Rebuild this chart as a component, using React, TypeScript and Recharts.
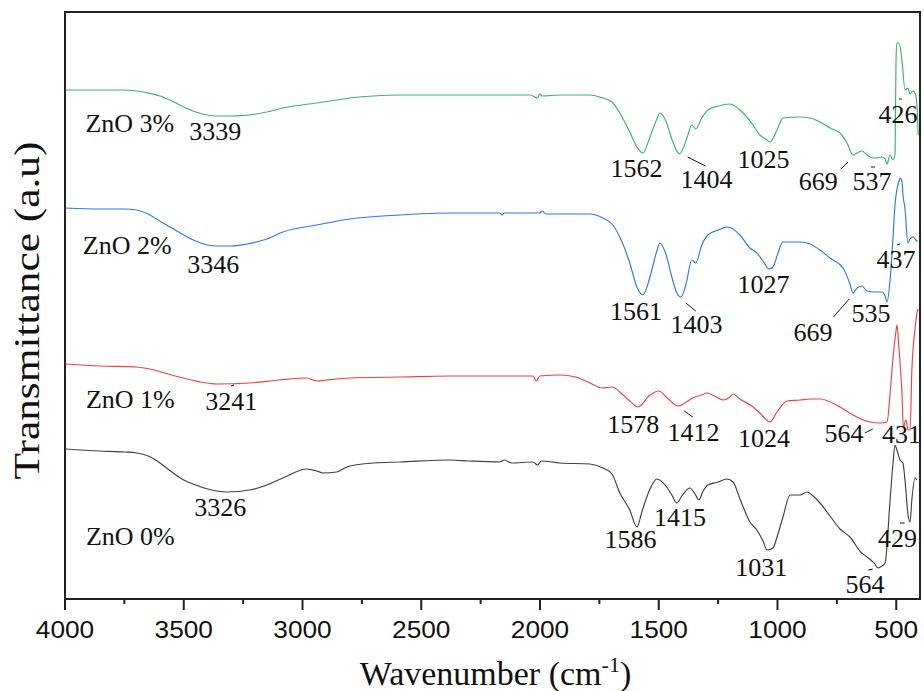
import React from 'react';
import { ComposedChart, Line, XAxis, YAxis, Scatter, ReferenceArea, ReferenceLine } from 'recharts';

type P = [number, number];

// Spectra: [wavenumber (cm-1), transmittance (a.u., stacked)]
const zno3: P[] = [
  [3997, 509], [3854, 509], [3750, 509], [3698, 508], [3650, 506], [3600, 503], [3550, 498], [3500, 492],
  [3450, 487], [3400, 484], [3361, 483], [3300, 483], [3251, 483.5], [3150, 487], [3083, 491], [2940, 496],
  [2856, 499], [2801, 501], [2700, 503], [2590, 504], [2380, 504], [2170, 504], [2040, 504], [2010, 501],
  [2001, 505], [1990, 503], [1916, 504], [1790, 504], [1735, 501], [1697, 497], [1664, 486], [1622, 467],
  [1592, 452], [1567, 446], [1537, 462], [1508, 480], [1495, 486], [1470, 478], [1445, 460], [1424, 448],
  [1412, 445], [1395, 452], [1380, 462], [1361, 474], [1344, 470], [1319, 481], [1293, 489], [1250, 493],
  [1200, 495], [1149, 487], [1103, 474], [1074, 464], [1044, 459], [1032, 457], [1002, 469], [977, 481],
  [905, 482], [863, 481], [821, 477], [779, 471], [737, 466], [707, 456], [682, 444], [665, 446],
  [644, 448], [627, 445], [611, 442], [590, 441], [560, 442], [547, 440], [539, 435], [526, 444],
  [514, 439], [505, 445], [501, 540], [497, 556], [488, 556], [476, 539], [463, 509], [451, 511],
  [442, 505], [430, 508], [421, 506], [413, 495], [408, 464],
];

const zno2: P[] = [
  [3997, 391], [3854, 390], [3750, 390], [3698, 389], [3650, 385], [3601, 378], [3550, 371], [3500, 364],
  [3450, 358], [3400, 354], [3361, 353], [3300, 353], [3235, 355], [3150, 360], [3083, 367], [2940, 374],
  [2801, 380], [2590, 384], [2380, 386], [2170, 386], [2160, 384], [2150, 386], [2001, 386], [1990, 388],
  [1975, 385], [1916, 385], [1790, 385], [1735, 381], [1697, 375], [1664, 362], [1622, 336], [1592, 312],
  [1567, 304], [1537, 322], [1508, 348], [1495, 356], [1470, 345], [1445, 322], [1424, 306], [1407, 302],
  [1386, 314], [1361, 339], [1344, 336], [1319, 354], [1293, 364], [1250, 369], [1209, 372], [1158, 364],
  [1116, 351], [1087, 346], [1061, 338], [1036, 330], [1019, 332], [1002, 343], [977, 357], [905, 357],
  [863, 355], [821, 349], [779, 341], [724, 331], [695, 315], [682, 306], [665, 311], [644, 313],
  [623, 308], [590, 307], [560, 307], [547, 303], [539, 297], [526, 319], [514, 360], [505, 395],
  [497, 410], [488, 418], [484, 421], [476, 418], [472, 405], [463, 390], [451, 356], [442, 360],
  [430, 362], [421, 360], [413, 358], [408, 358],
];

const zno1: P[] = [
  [3997, 235], [3854, 233], [3700, 232], [3643, 230], [3580, 226], [3504, 221], [3430, 217], [3361, 215],
  [3222, 216], [3100, 219], [2982, 221], [2940, 218], [2900, 219], [2801, 221], [2590, 222], [2380, 223],
  [2170, 223], [2030, 223], [2015, 218], [2001, 223], [1916, 224], [1850, 222], [1790, 216], [1739, 211],
  [1697, 212], [1650, 204], [1622, 198], [1588, 192], [1537, 204], [1500, 208], [1460, 200], [1420, 193],
  [1390, 196], [1357, 201], [1320, 204], [1297, 206], [1264, 203], [1230, 199], [1200, 202], [1187, 205],
  [1158, 200], [1103, 192], [1074, 186], [1032, 177], [1002, 187], [960, 198], [905, 199], [863, 200],
  [821, 200], [737, 192], [682, 184], [611, 177], [568, 176], [539, 177], [526, 205], [514, 240],
  [501, 268], [497, 274], [488, 249], [476, 206], [470, 171], [460, 179], [455, 175], [451, 169],
  [442, 169], [434, 230], [421, 270], [413, 286], [408, 290],
];

const zno0: P[] = [
  [3997, 150], [3854, 148], [3750, 147], [3698, 146], [3650, 143], [3600, 136], [3550, 127], [3500, 119],
  [3450, 114], [3400, 110], [3319, 107], [3222, 109], [3150, 114], [3083, 121], [2982, 130], [2940, 128],
  [2914, 126], [2856, 127], [2830, 130], [2801, 133], [2700, 136], [2590, 137], [2380, 139], [2300, 138],
  [2170, 137], [2150, 139], [2120, 136], [2030, 137], [2010, 134], [1995, 138], [1916, 136], [1790, 135],
  [1735, 131], [1697, 125], [1664, 106], [1622, 89], [1592, 72], [1570, 88], [1537, 110], [1508, 120],
  [1470, 113], [1445, 104], [1424, 96], [1400, 104], [1369, 111], [1345, 104], [1331, 99], [1313, 108],
  [1293, 114], [1250, 117], [1213, 120], [1187, 117], [1158, 100], [1116, 77], [1087, 69], [1061, 58],
  [1044, 49], [1019, 51], [1002, 62], [977, 82], [947, 104], [905, 104], [876, 107], [850, 103],
  [821, 96], [779, 83], [737, 70], [695, 62], [650, 47], [623, 42], [590, 35], [577, 31],
  [560, 33], [547, 36], [526, 99], [514, 135], [505, 154], [497, 149], [484, 139], [472, 136],
  [460, 110], [451, 85], [442, 77], [434, 100], [421, 121], [413, 119],
];

const xTicks = [4000, 3750, 3500, 3250, 3000, 2750, 2500, 2250, 2000, 1750, 1500, 1250, 1000, 750, 500];

// Peak and sample annotations: [wavenumber, a.u. (baseline), text]
const annotations: [number, number, string][] = [
  [3727, 467, 'ZnO 3%'], [3367, 459, '3339'], [1594, 422, '1562'], [1299, 411, '1404'],
  [1059, 431, '1025'], [828, 409, '669'], [602, 409, '537'], [493, 476, '426'],
  [3738, 345, 'ZnO 2%'], [3376, 326, '3346'], [1596, 279, '1561'], [1341, 266, '1403'],
  [1059, 306, '1027'], [851, 258, '669'], [606, 277, '535'], [501, 331, '437'],
  [3725, 191, 'ZnO 1%'], [3300, 189, '3241'], [1607, 166, '1578'], [1354, 158, '1412'],
  [1057, 152, '1024'], [720, 157, '564'], [478, 156, '431'],
  [3725, 54, 'ZnO 0%'], [3346, 83, '3326'], [1619, 51, '1586'], [1411, 73, '1415'],
  [1068, 23, '1031'], [632, 6, '564'], [495, 52, '429'],
];

// Leader marks: [wn1, t1, wn2, t2]
const leaders: [number, number, number, number][] = [
  [1378, 442, 1303, 433], [733, 430, 703, 437], [607, 432, 590, 432], [488, 500, 476, 500],
  [1386, 296, 1344, 288], [765, 282, 698, 300], [497, 354, 484, 355],
  [1393, 188, 1357, 182], [632, 166, 599, 170], [3302, 213, 3288, 214],
  [618, 29, 599, 30], [484, 76, 465, 76],
];

const SERIF = '"Liberation Serif", "Times New Roman", serif';
const SANS = '"Liberation Sans", Arial, sans-serif';

const rows = (arr: P[]) => arr.map(([wn, t]) => ({ wn, t }));
const annRows = annotations.map(([wn, t, text]) => ({ wn, t, text }));

const XTick = (props: any) => {
  const { x, y, payload } = props;
  const major = payload.value % 500 === 0;
  const s = String(payload.value);
  return (
    <g>
      <line x1={x} y1={y} x2={x} y2={y + (major ? 11 : 5)} stroke="#222" strokeWidth={2} />
      {major && (
        <text x={x} y={y + 39} textAnchor="middle" fontFamily={SANS} fontSize={24} textLength={14.6 * s.length}
          lengthAdjust="spacingAndGlyphs" fill="#111">
          {s}
        </text>
      )}
    </g>
  );
};

const XTitle = (props: any) => {
  const vb = props.viewBox || { x: 57, y: 591, width: 855, height: 60 };
  const cx = vb.x + vb.width / 2 + 3;
  return (
    <text x={cx} y={vb.y + 86} textAnchor="middle" fontFamily={SERIF} fontSize={34} fill="#111">
      Wavenumber (cm<tspan dy={-13} fontSize={22}>-1</tspan><tspan dy={13}>)</tspan>
    </text>
  );
};

const YTitle = (props: any) => {
  const vb = props.viewBox || { x: 57, y: 4, width: 855, height: 587 };
  const cx = vb.x - 38;
  const cy = vb.y + vb.height / 2 + 5;
  return (
    <text x={cx} y={cy} transform={`rotate(-90 ${cx} ${cy})`} textAnchor="middle" dominantBaseline="central"
      fontFamily={SERIF} fontSize={35} textLength={338} lengthAdjust="spacingAndGlyphs" fill="#111">
      Transmittance (a.u)
    </text>
  );
};

const AnnShape = (props: any) => (
  <text x={props.cx} y={props.cy} textAnchor="middle" fontFamily={SERIF} fontSize={26} fill="#111">
    {props.payload.text}
  </text>
);

export default function App() {
  return (
    <div style={{ position: 'absolute', left: 8, top: 8, width: 916, height: 683, overflow: 'hidden' }}>
      <ComposedChart width={916} height={683} margin={{ top: 4, right: 4, bottom: 32, left: 57 }}>
        <XAxis dataKey="wn" type="number" domain={[400, 4000]} reversed allowDataOverflow ticks={xTicks}
          interval={0} tick={<XTick />} tickLine={false} axisLine={false} tickSize={0} tickMargin={0}
          height={60} label={<XTitle />} />
        <YAxis type="number" domain={[0, 587]} allowDataOverflow hide />
        <Line data={rows(zno3)} dataKey="t" type="monotone" stroke="#3cb36a" strokeWidth={1.15} dot={false} isAnimationActive={false} />
        <Line data={rows(zno2)} dataKey="t" type="monotone" stroke="#2d7be0" strokeWidth={1.15} dot={false} isAnimationActive={false} />
        <Line data={rows(zno1)} dataKey="t" type="monotone" stroke="#f04040" strokeWidth={1.15} dot={false} isAnimationActive={false} />
        <Line data={rows(zno0)} dataKey="t" type="monotone" stroke="#404040" strokeWidth={1.15} dot={false} isAnimationActive={false} />
        <ReferenceArea x1={400} x2={4000} y1={0} y2={587} fill="none" fillOpacity={0} stroke="#222" strokeWidth={2}
          label={<YTitle />} />
        {leaders.map(([a, b, c, d], i) => (
          <ReferenceLine key={i} segment={[{ x: a, y: b }, { x: c, y: d }]} stroke="#111" strokeWidth={1} />
        ))}
        <Scatter data={annRows} dataKey="t" shape={<AnnShape />} isAnimationActive={false} />
      </ComposedChart>
    </div>
  );
}
